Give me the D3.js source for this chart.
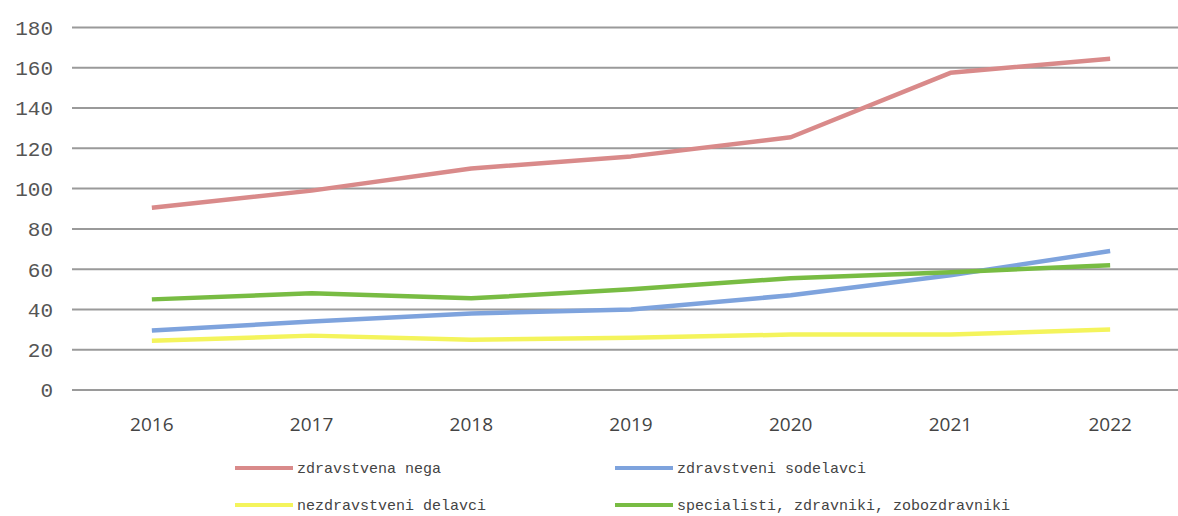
<!DOCTYPE html>
<html>
<head>
<meta charset="utf-8">
<script src="https://cdn.jsdelivr.net/npm/d3@7"></script>
<style>
  body { margin: 0; background: #fff; }
  svg { display: block; }
</style>
</head>
<body>
<div class="chart"></div>
<script>
const years = ['2016', '2017', '2018', '2019', '2020', '2021', '2022'];
const zdravstvenaNega = [90.5, 99, 110, 116, 125.5, 157.5, 164.5];
const zdravstveniSodelavci = [29.5, 34, 38, 40, 47, 57, 69];
const nezdravstveniDelavci = [24.5, 27, 25, 26, 27.5, 27.5, 30];
const specialisti = [45, 48, 45.5, 50, 55.5, 58.5, 62];
const yTicks = [0, 20, 40, 60, 80, 100, 120, 140, 160, 180];

const seriesNames = ['zdravstvena nega', 'zdravstveni sodelavci', 'nezdravstveni delavci', 'specialisti, zdravniki, zobozdravniki'];
const seriesValues = [zdravstvenaNega, zdravstveniSodelavci, nezdravstveniDelavci, specialisti];
const colors = ['#d98a8a', '#7ea3dd', '#f4f45c', '#78bc43'];

const width = 1178;
const height = 516;

const svg = d3.select('.chart').append('svg')
	.attr('width', width)
	.attr('height', height);

const x = d3.scaleBand().domain(years).range([72, 1190]);
const y = d3.scaleLinear().domain([0, 180]).range([390, 27.5]);

// gridlines
svg.append('g')
	.selectAll('line')
	.data(yTicks)
	.enter().append('line')
	.attr('x1', 72)
	.attr('x2', width)
	.attr('y1', d => y(d))
	.attr('y2', d => y(d))
	.attr('stroke', '#9a9a9a')
	.attr('stroke-width', 2);

// y labels
svg.append('g')
	.selectAll('text')
	.data(yTicks)
	.enter().append('text')
	.attr('x', 53)
	.attr('y', d => y(d))
	.attr('dy', '0.35em')
	.attr('text-anchor', 'end')
	.attr('fill', '#555')
	.style('font-family', '"Liberation Mono", monospace')
	.style('font-size', '21px')
	.text(d => d);

// x labels
svg.append('g')
	.selectAll('text')
	.data(years)
	.enter().append('text')
	.attr('x', d => x(d) + x.bandwidth() / 2)
	.attr('y', 424)
	.attr('dy', '0.35em')
	.attr('text-anchor', 'middle')
	.attr('fill', '#444')
	.style('font-family', '"Open Sans", sans-serif')
	.style('font-size', '19px')
	.text(d => d);

const line = d3.line()
	.x((d, i) => x(years[i]) + x.bandwidth() / 2)
	.y(d => y(d));

svg.append('g')
	.selectAll('path')
	.data(seriesValues)
	.enter().append('path')
	.attr('d', line)
	.attr('fill', 'none')
	.attr('stroke', (d, i) => colors[i])
	.attr('stroke-width', 4.5)
	.attr('stroke-linejoin', 'round');

// legend
const legendPos = [[235, 468], [615, 468], [235, 505], [615, 505]];
const legend = svg.append('g')
	.selectAll('g')
	.data(seriesNames)
	.enter().append('g')
	.attr('transform', (d, i) => `translate(${legendPos[i][0]},${legendPos[i][1]})`);

legend.append('line')
	.attr('x1', 0)
	.attr('x2', 58)
	.attr('stroke', (d, i) => colors[i])
	.attr('stroke-width', 4);

legend.append('text')
	.attr('x', 62)
	.attr('dy', '0.32em')
	.attr('fill', '#444')
	.style('font-family', '"Liberation Mono", monospace')
	.style('font-size', '15px')
	.text(d => d);
</script>
</body>
</html>
